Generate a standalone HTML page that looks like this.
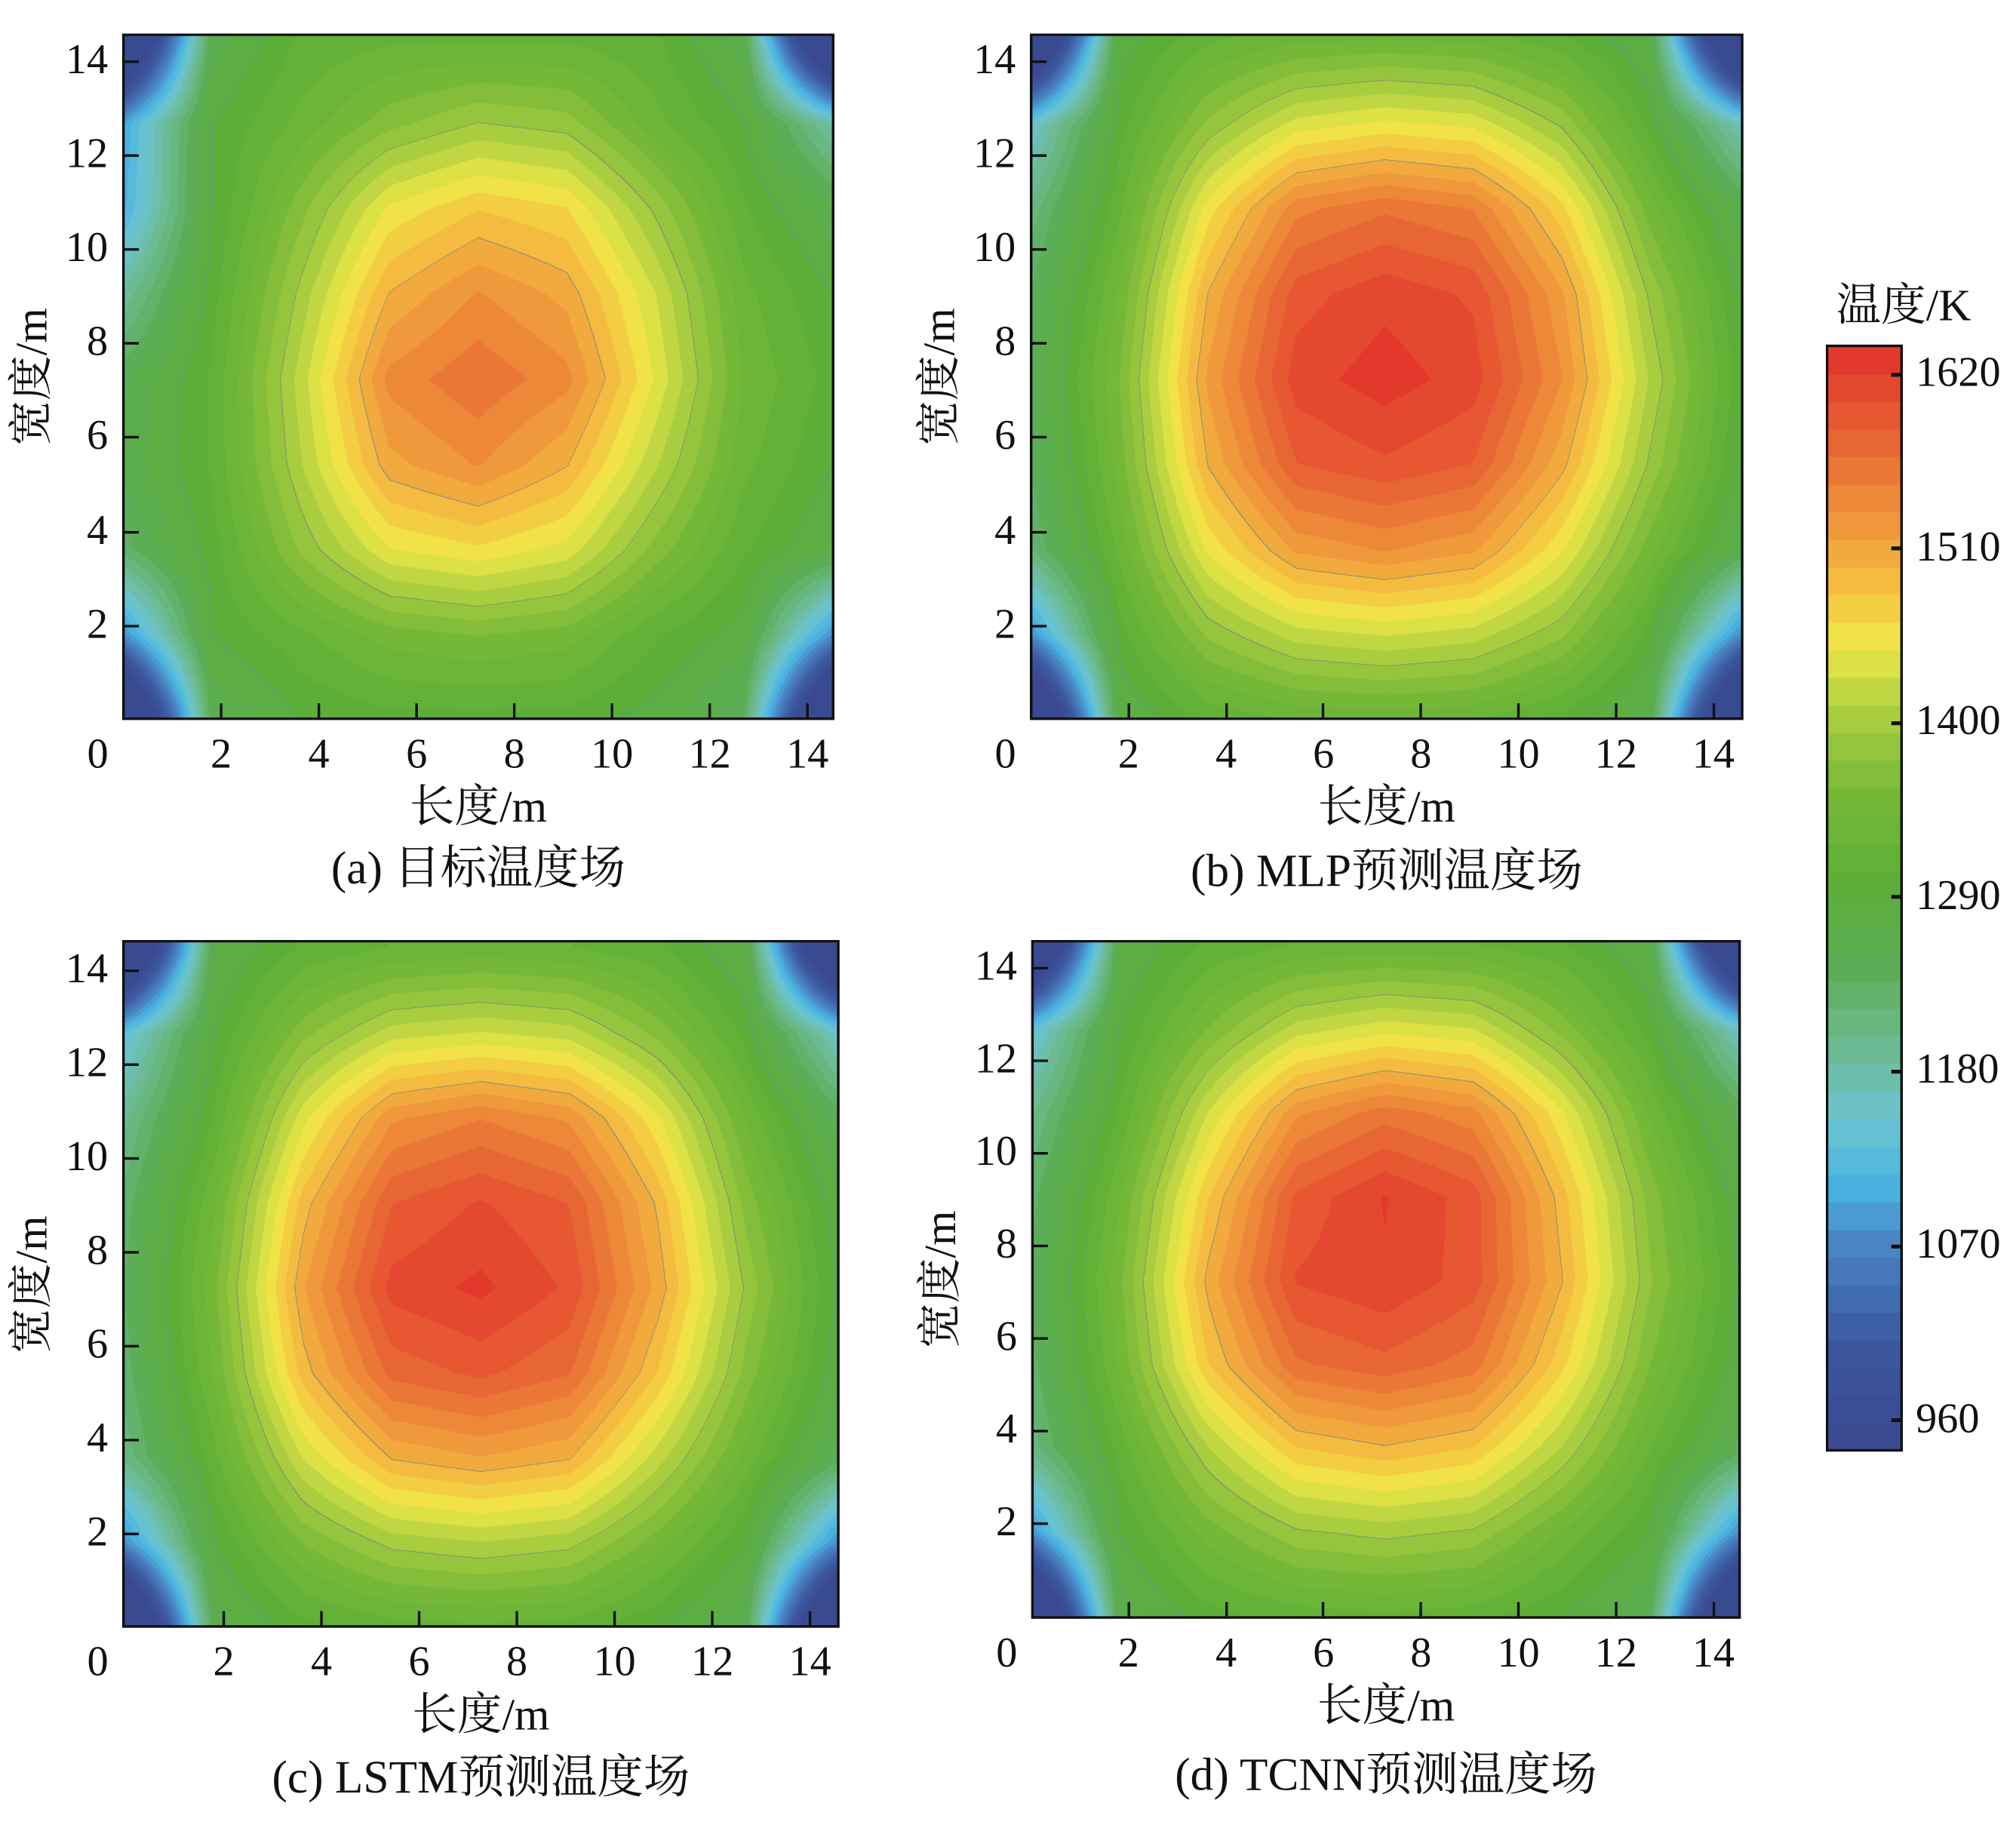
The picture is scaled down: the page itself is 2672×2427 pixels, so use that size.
<!DOCTYPE html>
<html><head><meta charset="utf-8">
<style>
html,body{margin:0;padding:0;background:#fff;}
body{width:2672px;height:2427px;overflow:hidden;position:relative;}
#wrap{position:absolute;left:0;top:0;width:1568px;height:1424px;transform:scale(1.7041,1.7043);transform-origin:0 0;font-family:"Liberation Serif","Noto Serif CJK SC",serif;color:#111;}
.abs{position:absolute;}
.tick{position:absolute;background:#111;}
.lbl{position:absolute;font-size:33px;line-height:33px;white-space:nowrap;}
.frame{position:absolute;border:2px solid #111;box-sizing:border-box;}
canvas{position:absolute;}
</style></head>
<body>
<div id="wrap"></div>
<script>
// grid coordinates (m)
const gridX = [0,1.8125,3.625,5.4375,7.25,9.0625,10.875,12.6875,14.5];
const gridY = [14.5,12.6875,10.875,9.0625,7.25,5.4375,3.625,1.8125,0]; // rows top->bottom
// temperature fields (K)
const gridA = [
[780,1260,1310,1320,1320,1320,1310,1260,760],
[1100,1290,1330,1370,1395,1385,1330,1290,1180],
[1110,1290,1370,1450,1480,1465,1390,1310,1260],
[1190,1300,1400,1500,1535,1510,1430,1330,1290],
[1250,1310,1420,1540,1565,1540,1445,1340,1300],
[1260,1310,1410,1510,1535,1500,1415,1330,1290],
[1230,1300,1380,1445,1460,1440,1370,1310,1270],
[1080,1290,1320,1350,1360,1350,1310,1280,1080],
[760,1250,1290,1300,1300,1300,1280,1240,760]];
const gridB = [
[780,1280,1320,1335,1340,1335,1310,1270,780],
[1150,1300,1380,1435,1450,1440,1390,1300,1170],
[1210,1320,1455,1545,1565,1550,1470,1350,1260],
[1240,1345,1500,1595,1615,1600,1520,1390,1290],
[1250,1360,1520,1612,1630,1612,1535,1410,1300],
[1240,1350,1500,1585,1600,1585,1505,1390,1290],
[1220,1330,1450,1520,1535,1520,1450,1350,1260],
[1080,1300,1380,1420,1430,1420,1380,1300,1080],
[760,1270,1310,1325,1330,1325,1300,1260,760]];
const gridC = [
[780,1270,1310,1325,1330,1325,1310,1270,780],
[1140,1290,1370,1420,1430,1420,1370,1300,1160],
[1200,1310,1440,1530,1550,1530,1450,1340,1250],
[1230,1340,1490,1585,1605,1585,1495,1370,1280],
[1240,1355,1515,1610,1625,1600,1510,1390,1290],
[1230,1345,1490,1575,1590,1570,1480,1370,1280],
[1210,1320,1430,1500,1515,1500,1420,1335,1250],
[1080,1290,1360,1400,1410,1400,1350,1290,1080],
[760,1260,1300,1315,1320,1315,1290,1250,760]];
const gridD = [
[780,1270,1310,1325,1330,1325,1310,1270,780],
[1140,1290,1360,1420,1440,1430,1370,1300,1160],
[1200,1310,1430,1530,1560,1540,1450,1340,1250],
[1230,1340,1480,1590,1622,1595,1490,1370,1280],
[1240,1355,1505,1605,1618,1595,1500,1380,1290],
[1230,1345,1480,1565,1580,1560,1470,1360,1280],
[1210,1315,1410,1480,1495,1480,1410,1325,1250],
[1080,1290,1350,1390,1400,1390,1340,1290,1080],
[760,1260,1300,1315,1320,1315,1290,1250,760]];
const cbTicks = [1620,1510,1400,1290,1180,1070,960];
const xTicks = [0,2,4,6,8,10,12,14];
const yTicks = [2,4,6,8,10,12,14];

const VMIN=941, VMAX=1638, NLEV=40;
const stops=[[941,[58,72,143]],[1010,[60,88,160]],[1070,[74,132,196]],[1110,[74,180,226]],[1150,[108,196,208]],[1200,[108,186,140]],[1250,[92,172,82]],[1300,[92,174,56]],[1360,[122,186,56]],[1410,[176,208,64]],[1450,[240,232,72]],[1485,[245,192,64]],[1525,[240,152,60]],[1575,[232,104,52]],[1638,[226,50,44]]];
function colorOf(v){
  if(v<=stops[0][0])return stops[0][1];
  for(let i=1;i<stops.length;i++){ if(v<=stops[i][0]){const a=stops[i-1],b=stops[i];const t=(v-a[0])/(b[0]-a[0]);return a[1].map((c,k)=>Math.round(c+(b[1][k]-c)*t));}}
  return stops[stops.length-1][1];
}
function quant(v){let l=Math.floor((v-VMIN)/(VMAX-VMIN)*NLEV);return Math.max(0,Math.min(NLEV-1,l));}
function levVal(l){return VMIN+(l+0.5)*(VMAX-VMIN)/NLEV;}
function sample(g,x,y){
  x=Math.max(0,Math.min(14.5,x));y=Math.max(0,Math.min(14.5,y));
  const fx=x/1.8125, fr=(14.5-y)/1.8125;
  let i=Math.min(7,Math.floor(fx)), j=Math.min(7,Math.floor(fr));
  const tx=fx-i, ty=fr-j;
  return g[j][i]*(1-tx)*(1-ty)+g[j][i+1]*tx*(1-ty)+g[j+1][i]*(1-tx)*ty+g[j+1][i+1]*tx*ty;
}
const W=document.getElementById('wrap');
function el(tag,cls,css,txt){const e=document.createElement(tag);if(cls)e.className=cls;Object.assign(e.style,css);if(txt!==undefined)e.textContent=txt;W.appendChild(e);return e;}

const panels=[
 {id:'a',g:gridA,L:96,R:648,T:27,B:559,x0:96,xs:38,y0:560,ys:36.6,cap:'(a) 目标温度场',capY:655},
 {id:'b',g:gridB,L:802,R:1355,T:27,B:559,x0:802,xs:37.9,y0:560,ys:36.6,cap:'(b) MLP预测温度场',capY:657},
 {id:'c',g:gridC,L:96,R:652,T:732,B:1265,x0:98,xs:38,y0:1266,ys:36.5,cap:'(c) LSTM预测温度场',capY:1362},
 {id:'d',g:gridD,L:803,R:1353,T:732,B:1258,x0:802,xs:37.9,y0:1257,ys:36,cap:'(d) TCNN预测温度场',capY:1360}
];
const contourLv=[quant(1290),quant(1400),quant(1510)];
panels.forEach(p=>{
  const w=p.R-p.L,h=p.B-p.T,S=2;
  const cv=el('canvas','',{left:p.L+'px',top:p.T+'px',width:w+'px',height:h+'px'});
  
  
  cv.width=w*S;cv.height=h*S;
  const ctx=cv.getContext('2d');const img=ctx.createImageData(cv.width,cv.height);
  const Q=new Int16Array(cv.width*cv.height);
  for(let py=0;py<cv.height;py++){for(let px=0;px<cv.width;px++){
    const X=(p.L+px/S-p.x0)/p.xs, Y=(p.y0-(p.T+py/S))/p.ys;
    Q[py*cv.width+px]=quant(sample(p.g,X,Y));}}
  for(let py=0;py<cv.height;py++){for(let px=0;px<cv.width;px++){
    const k=py*cv.width+px,q=Q[k];let c=colorOf(levVal(q));
    if(px>0&&py>0){const ql=Q[k-1],qu=Q[k-cv.width];
      for(const cl of contourLv){ if((q>=cl)!==(ql>=cl)||(q>=cl)!==(qu>=cl)){c=cl===contourLv[0]?[80,160,140]:[130,140,120];} }}
    img.data[k*4]=c[0];img.data[k*4+1]=c[1];img.data[k*4+2]=c[2];img.data[k*4+3]=255;}}
  ctx.putImageData(img,0,0);
  const f=el('div','frame',{left:(p.L-1)+'px',top:(p.T-1)+'px',width:(w+2)+'px',height:(h+2)+'px'});
  
  
  xTicks.forEach(t=>{const x=p.x0+t*p.xs;
    if(t>0){const tk=el('div','tick',{left:(x-1)+'px',top:(p.B-12)+'px',width:'2px',height:'12px'});
      
      }
    const lb=el('div','lbl',{left:(x-30)+'px',width:'60px',textAlign:'center',top:(p.B+12)+'px'},String(t));
    
    
    if(t===0)lb.style.left=(p.L-50)+'px';});
  yTicks.forEach(t=>{const y=p.y0-t*p.ys;
    const tk=el('div','tick',{left:p.L+'px',top:(y-1)+'px',width:'12px',height:'2px'});
    
    
    const lb=el('div','lbl',{left:(p.L-72)+'px',width:'60px',textAlign:'right',top:(y-17)+'px'},String(t));
    
    });
  const cx=(p.L+p.R)/2;
  const xt=el('div','lbl',{left:(cx-100)+'px',width:'200px',textAlign:'center',top:(p.B+50)+'px',fontSize:'35px',lineHeight:'38px'},'长度/m');
  
  
  const yt=el('div','lbl',{left:(p.L-96-100+25)+'px',width:'200px',textAlign:'center',top:((p.T+p.B)/2-19)+'px',fontSize:'35px',lineHeight:'38px',transform:'rotate(-90deg)'},'宽度/m');
  
  
  const cp=el('div','lbl',{left:(cx-250)+'px',width:'500px',textAlign:'center',top:p.capY+'px',fontSize:'36px',lineHeight:'40px'},p.cap);
  
  
});
// colorbar
const CB={L:1421,R:1479,T:269,B:1128};
const cbc=el('canvas','',{left:CB.L+'px',top:CB.T+'px',width:(CB.R-CB.L)+'px',height:(CB.B-CB.T)+'px'});


cbc.width=(CB.R-CB.L)*2;cbc.height=(CB.B-CB.T)*2;
{const ctx=cbc.getContext('2d');const bh=cbc.height/NLEV;
 for(let l=0;l<NLEV;l++){const c=colorOf(levVal(l));ctx.fillStyle='rgb('+c.join(',')+')';ctx.fillRect(0,cbc.height-(l+1)*bh,cbc.width,bh+1);}}
const cbf=el('div','frame',{left:(CB.L-1)+'px',top:(CB.T-1)+'px',width:(CB.R-CB.L+2)+'px',height:(CB.B-CB.T+2)+'px'});


cbTicks.forEach(t=>{const y=CB.B-(t-VMIN)/(VMAX-VMIN)*(CB.B-CB.T);
  const tk=el('div','tick',{left:(CB.R-8)+'px',top:(y-1.5)+'px',width:'8px',height:'3px'});
  
  
  const lb=el('div','lbl',{left:(CB.R+11)+'px',top:(y-17)+'px'},String(t));
  
  });
const cbt=el('div','lbl',{left:'1428px',top:'219px',fontSize:'35px',lineHeight:'38px'},'温度/K');


</script>
</body></html>
